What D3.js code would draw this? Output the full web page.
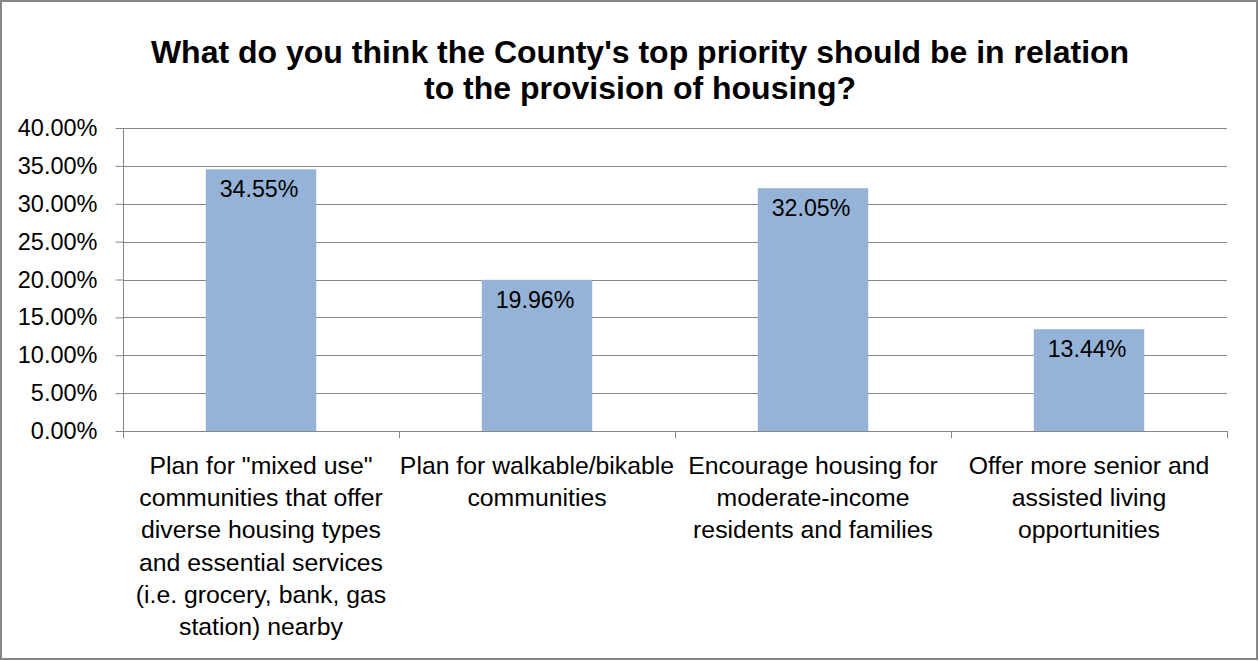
<!DOCTYPE html>
<html>
<head>
<meta charset="utf-8">
<script src="https://cdn.jsdelivr.net/npm/d3@7"></script>
<style>
html,body{margin:0;padding:0;background:#fff;}
svg{display:block;}
</style>
</head>
<body>
<svg id="chart" width="1259" height="661"></svg>
<script>
const titleLines = ["What do you think the County's top priority should be in relation", "to the provision of housing?"];
const categories = ["mixed", "walkable", "moderate", "senior"];
const categoryLabels = [
  ["Plan for \"mixed use\"", "communities that offer", "diverse housing types", "and essential services", "(i.e. grocery, bank, gas", "station) nearby"],
  ["Plan for walkable/bikable", "communities"],
  ["Encourage housing for", "moderate-income", "residents and families"],
  ["Offer more senior and", "assisted living", "opportunities"]
];
const values = [0.3455, 0.1996, 0.3205, 0.1344];
const yTicks = [0, 0.05, 0.10, 0.15, 0.20, 0.25, 0.30, 0.35, 0.40];

(function () {
const svg = d3.select("#chart");
const W = 1259, H = 661;
const pLeft = 123, pRight = 1227, pTop = 128, pBottom = 431;
const fontBody = "'Liberation Sans', Arial, sans-serif";

svg.append("rect").attr("x", 1).attr("y", 1).attr("width", W - 3).attr("height", H - 3)
  .attr("fill", "#fff").attr("stroke", "#868686").attr("stroke-width", 2);

svg.append("g").selectAll("text").data(titleLines).join("text")
  .attr("x", 640).attr("y", (d, i) => 63 + i * 36)
  .attr("text-anchor", "middle")
  .attr("font-family", fontBody).attr("font-weight", "bold").attr("font-size", 32)
  .attr("fill", "#000").text(d => d);

const y = d3.scaleLinear().domain([0, 0.4]).range([pBottom, pTop]);
const xCat = d3.scaleBand().domain(categories).range([pLeft, pRight]).padding(0);
const xBar = d3.scaleBand().domain(categories).range([pLeft, pRight]).paddingInner(0.6).paddingOuter(0.3);

// gridlines
svg.append("g").selectAll("line").data(yTicks.filter(d => d > 0)).join("line")
  .attr("x1", pLeft).attr("x2", pRight)
  .attr("y1", d => Math.round(y(d)) + 0.5).attr("y2", d => Math.round(y(d)) + 0.5)
  .attr("stroke", "#868686").attr("stroke-width", 1);

// y axis
const yAxis = svg.append("g").attr("transform", `translate(${pLeft + 0.5},0)`)
  .call(d3.axisLeft(y).tickValues(yTicks).tickFormat(d3.format(".2%")).tickSize(8).tickPadding(18));
yAxis.select(".domain").attr("stroke", "#868686").attr("d", `M0,${pTop}V${pBottom}`);
yAxis.selectAll(".tick line").attr("stroke", "#868686");
yAxis.selectAll(".tick text").attr("font-family", fontBody).attr("font-size", 23.5).attr("fill", "#000");

// bars
svg.append("g").selectAll("rect").data(values).join("rect")
  .attr("x", (d, i) => xBar(categories[i]))
  .attr("y", d => y(d))
  .attr("width", xBar.bandwidth())
  .attr("height", d => y(0) - y(d))
  .attr("fill", "#95B3D7");

// x axis
svg.append("line").attr("x1", pLeft).attr("x2", pRight)
  .attr("y1", pBottom + 0.5).attr("y2", pBottom + 0.5).attr("stroke", "#868686");
const bounds = categories.map(c => xCat(c)).concat([pRight]);
svg.append("g").selectAll("line").data(bounds).join("line")
  .attr("x1", d => d + 0.5).attr("x2", d => d + 0.5)
  .attr("y1", pBottom).attr("y2", pBottom + 7).attr("stroke", "#868686");

// value labels
svg.append("g").selectAll("text").data(values).join("text")
  .attr("x", (d, i) => xBar(categories[i]) + xBar.bandwidth() / 2 - 2)
  .attr("y", d => y(d) + 28)
  .attr("text-anchor", "middle")
  .attr("font-family", fontBody).attr("font-size", 23.2).attr("fill", "#000")
  .text(d => d3.format(".2%")(d));

// category labels
const catG = svg.append("g").selectAll("g").data(categoryLabels).join("g");
catG.each(function(lines, i) {
  d3.select(this).selectAll("text").data(lines).join("text")
    .attr("x", xCat(categories[i]) + xCat.bandwidth() / 2)
    .attr("y", (d, j) => 474 + j * 32.2)
    .attr("text-anchor", "middle")
    .attr("font-family", fontBody).attr("font-size", 24.8).attr("fill", "#000")
    .text(d => d);
});
})();
</script>
</body>
</html>
